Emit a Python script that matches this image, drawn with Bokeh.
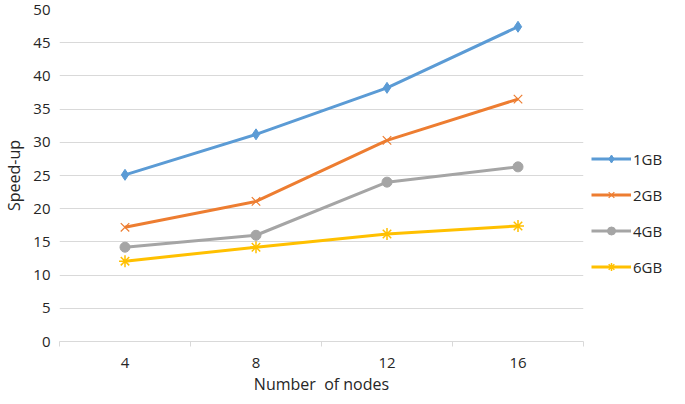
from bokeh.plotting import figure
from bokeh.models import Range1d, FixedTicker, Legend, LegendItem
from bokeh.embed import file_html
from bokeh.resources import INLINE

# ---- data ----
nodes = [4, 8, 12, 16]
series_names = ["1GB", "2GB", "4GB", "6GB"]
speedup_1gb = [25.1, 31.2, 38.2, 47.4]
speedup_2gb = [17.2, 21.1, 30.3, 36.5]
speedup_4gb = [14.2, 16.0, 24.0, 26.3]
speedup_6gb = [12.1, 14.2, 16.2, 17.4]
y_ticks = [0, 5, 10, 15, 20, 25, 30, 35, 40, 45, 50]

series_values = [speedup_1gb, speedup_2gb, speedup_4gb, speedup_6gb]
colors = ["#5B9BD5", "#ED7D31", "#A5A5A5", "#FFC000"]
markers = ["diamond", "x", "circle", "asterisk"]
marker_sizes = [11, 12, 10, 12]
marker_lw = [1, 1.2, 1, 1.5]

FONT = "Open Sans"
TEXT = "#262626"
GRID = "#D9D9D9"

step = nodes[1] - nodes[0]
x_lo = nodes[0] - step / 2
x_hi = nodes[-1] + step / 2
boundaries = [x_lo + i * step for i in range(len(nodes) + 1)]

p = figure(frame_width=524, frame_height=332, output_backend="svg",
           toolbar_location=None,
           x_range=Range1d(x_lo, x_hi), y_range=Range1d(0, 50),
           min_border_left=57, min_border_right=88, min_border_top=9,
           min_border_bottom=47)
p.outline_line_color = None
p.background_fill_color = "white"
p.border_fill_color = "white"

# y axis
p.yaxis.ticker = FixedTicker(ticks=y_ticks)
p.yaxis.axis_line_color = None
p.yaxis.major_tick_line_color = None
p.yaxis.major_tick_out = 0
p.yaxis.major_tick_in = 0
p.yaxis.minor_tick_line_color = None
p.yaxis.minor_tick_out = 0
p.yaxis.minor_tick_in = 0
p.yaxis.major_label_text_font = FONT
p.yaxis.major_label_text_font_size = "15px"
p.yaxis.major_label_text_color = TEXT
p.yaxis.major_label_standoff = 9
p.yaxis.axis_label = "Speed-up"
p.yaxis.axis_label_text_font = FONT
p.yaxis.axis_label_text_font_size = "16px"
p.yaxis.axis_label_text_font_style = "normal"
p.yaxis.axis_label_text_color = TEXT
p.yaxis.axis_label_standoff = 5

# x axis
p.xaxis.ticker = FixedTicker(ticks=nodes, minor_ticks=boundaries)
p.xaxis.axis_line_color = GRID
p.xaxis.axis_line_width = 1
p.xaxis.major_tick_line_color = None
p.xaxis.major_tick_out = 0
p.xaxis.major_tick_in = 0
p.xaxis.minor_tick_line_color = GRID
p.xaxis.minor_tick_in = 0
p.xaxis.minor_tick_out = 5
p.xaxis.major_label_text_font = FONT
p.xaxis.major_label_text_font_size = "15px"
p.xaxis.major_label_text_color = TEXT
p.xaxis.major_label_standoff = 11
p.xaxis.axis_label = "Number\u00a0\u00a0of nodes"
p.xaxis.axis_label_text_font = FONT
p.xaxis.axis_label_text_font_size = "16px"
p.xaxis.axis_label_text_font_style = "normal"
p.xaxis.axis_label_text_color = TEXT
p.xaxis.axis_label_standoff = 2

p.xgrid.grid_line_color = None
p.ygrid.grid_line_color = GRID
p.ygrid.grid_line_width = 1

items = []
for name, vals, c, m, ms, mlw in zip(series_names, series_values, colors, markers,
                                     marker_sizes, marker_lw):
    r1 = p.line(nodes, vals, line_color=c, line_width=3)
    r2 = p.scatter(nodes, vals, marker=m, size=ms, fill_color=c, line_color=c,
                   line_width=mlw)
    items.append(LegendItem(label=name, renderers=[r1, r2]))

legend = Legend(items=items, location="left", orientation="vertical",
                title=" ", title_text_font_size="14px", title_standoff=59,
                spacing=16, padding=0, margin=8, glyph_width=40, glyph_height=20,
                label_standoff=2, border_line_color=None,
                background_fill_alpha=0,
                label_text_font=FONT, label_text_font_size="15px",
                label_text_color=TEXT)
p.add_layout(legend, "right")

open("out.html", "w").write(file_html(p, INLINE))
